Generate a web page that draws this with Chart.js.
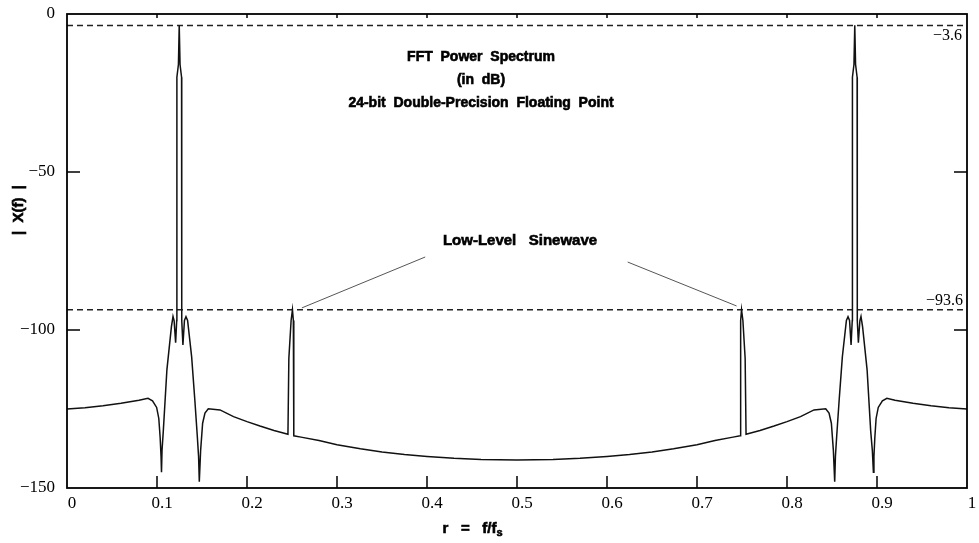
<!DOCTYPE html>
<html>
<head>
<meta charset="utf-8">
<script src="https://cdn.jsdelivr.net/npm/chart.js@4.4.1/dist/chart.umd.min.js"></script>
<style>
  html, body { margin: 0; padding: 0; background: #fff; }
</style>
</head>
<body>
<canvas id="fftChart" width="979" height="543"></canvas>
<script>
// normalised frequency r = f/fs and |X(f)| in dB
const freqs = [
  0, 0.02, 0.04, 0.06, 0.08, 0.09, 0.095, 0.0996, 0.102, 0.1035, 0.1045, 0.105, 0.1056,
  0.107, 0.111, 0.116, 0.1178, 0.119, 0.1207, 0.1219, 0.1221, 0.1238, 0.1247, 0.1256, 0.1273,
  0.1275, 0.1288, 0.1305, 0.1322, 0.134, 0.1385, 0.142, 0.1448, 0.1462, 0.147, 0.1485,
  0.1507, 0.1533, 0.157, 0.17, 0.185, 0.2, 0.2144, 0.23, 0.2455, 0.2465, 0.249, 0.2505,
  0.2515, 0.252, 0.26, 0.28, 0.3, 0.326, 0.35, 0.375, 0.4, 0.43, 0.46, 0.5,
  0.54, 0.57, 0.6, 0.625, 0.65, 0.674, 0.7, 0.72, 0.74, 0.748, 0.7485, 0.7495,
  0.751, 0.7535, 0.7545, 0.77, 0.7856, 0.8, 0.815, 0.83, 0.843, 0.8467, 0.8493, 0.8515,
  0.853, 0.8538, 0.8552, 0.858, 0.8615, 0.866, 0.8678, 0.8695, 0.8712, 0.8725, 0.8727, 0.8744,
  0.8753, 0.8762, 0.8779, 0.8781, 0.8793, 0.881, 0.8822, 0.884, 0.889, 0.893, 0.8948, 0.896,
  0.8966, 0.8976, 0.899, 0.9014, 0.906, 0.911, 0.92, 0.94, 0.96, 0.98, 1
];
const levels = [
  -125, -124.6, -124, -123.2, -122.2, -121.6, -122.4, -124.5, -128, -134, -140, -145, -138,
  -132, -112.6, -99, -95.7, -97, -104, -97, -20, -16, -3.6, -16, -20,
  -97, -104.7, -97, -95.8, -97, -108.5, -122, -133.7, -140, -148, -138,
  -129.5, -126.3, -124.9, -125.3, -127.4, -129, -130.4, -131.8, -133, -109, -97, -93.6,
  -97, -133.5, -133.9, -135, -136.3, -137.6, -138.6, -139.4, -140, -140.6, -141, -141.1,
  -141, -140.6, -140, -139.4, -138.6, -137.6, -136.3, -135, -133.9, -133.5, -97, -93.6,
  -97, -109, -133, -131.8, -130.4, -129, -127.4, -125.3, -124.9, -126.3, -129.5, -138,
  -148, -140, -133.7, -122, -108.5, -97, -95.8, -97, -104.7, -97, -20, -16,
  -3.6, -16, -20, -97, -104, -97, -95.7, -99, -112.6, -132, -138, -145,
  -140, -134, -128, -124.5, -122.4, -121.6, -122.2, -123.2, -124, -124.6, -125
];

const xTicks = [0, 0.1, 0.2, 0.3, 0.4, 0.5, 0.6, 0.7, 0.8, 0.9, 1];
const yTicks = [-150, -100, -50, 0];
const refLevels = [-3.6, -93.6];

const titleLines = ['FFT  Power  Spectrum', '(in  dB)', '24-bit  Double-Precision  Floating  Point'];
const calloutText = 'Low-Level   Sinewave';
const calloutLeftX = [0.398, 0.261];
const calloutLeftY = [-76.9, -93.0];
const calloutRightX = [0.623, 0.744];
const calloutRightY = [-78.5, -92.4];

const minus = s => String(s).replace('-', '\u2212');

const spectrum = freqs.map((f, i) => ({ x: f, y: levels[i] }));
const refSets = refLevels.map(l => ({
  data: [{ x: 0, y: l }, { x: 1, y: l }],
  borderColor: '#222', borderWidth: 1.5, borderDash: [6, 4], pointRadius: 0
}));
const callouts = [[calloutLeftX, calloutLeftY], [calloutRightX, calloutRightY]].map(([xs, ys]) => ({
  data: xs.map((x, i) => ({ x: x, y: ys[i] })),
  borderColor: '#555', borderWidth: 1, pointRadius: 0
}));

// heavy bold text: fill plus a thin stroke
function boldText(ctx, t, x, y) {
  ctx.fillText(t, x, y);
  ctx.strokeText(t, x, y);
}

const framePlugin = {
  id: 'frame',
  afterDraw(chart) {
    const { ctx, chartArea: a, scales: { x, y } } = chart;
    ctx.save();
    ctx.strokeStyle = '#000';
    ctx.lineWidth = 1.8;
    ctx.strokeRect(a.left, a.top, a.right - a.left, a.bottom - a.top);

    // inward tick marks
    ctx.lineWidth = 1.5;
    ctx.beginPath();
    xTicks.slice(1, -1).forEach(v => {
      const px = x.getPixelForValue(v);
      ctx.moveTo(px, a.bottom); ctx.lineTo(px, a.bottom - 12);
      ctx.moveTo(px, a.top); ctx.lineTo(px, a.top + 4);
    });
    yTicks.slice(1, -1).forEach(v => {
      const py = y.getPixelForValue(v);
      ctx.moveTo(a.left, py); ctx.lineTo(a.left + 13, py);
      ctx.moveTo(a.right, py); ctx.lineTo(a.right - 13, py);
    });
    ctx.stroke();

    // reference level labels
    ctx.fillStyle = '#000';
    ctx.font = '16px "Liberation Serif"';
    ctx.textAlign = 'right';
    ctx.textBaseline = 'top';
    ctx.fillText(minus(refLevels[0]), a.right - 5, y.getPixelForValue(refLevels[0]) + 2);
    ctx.textBaseline = 'bottom';
    ctx.fillText(minus(refLevels[1]), a.right - 4, y.getPixelForValue(refLevels[1]) - 1);

    // title block
    ctx.lineWidth = 0.6;
    ctx.font = 'bold 14px "Liberation Sans"';
    ctx.textAlign = 'center';
    ctx.textBaseline = 'middle';
    titleLines.forEach((t, i) => boldText(ctx, t, 481, 57 + i * 23));
    ctx.font = 'bold 15px "Liberation Sans"';
    boldText(ctx, calloutText, 520, 241);

    // x axis title with subscript
    ctx.font = 'bold 15px "Liberation Sans"';
    ctx.textAlign = 'left';
    ctx.textBaseline = 'alphabetic';
    const main = 'r   =   f/f';
    const w = ctx.measureText(main).width;
    const sx = 473 - (w + 7) / 2;
    boldText(ctx, main, sx, 533);
    ctx.font = 'bold 11px "Liberation Sans"';
    boldText(ctx, 's', sx + w, 536);

    // y axis title
    ctx.translate(19, 210);
    ctx.rotate(-Math.PI / 2);
    ctx.font = 'bold 15px "Liberation Sans"';
    ctx.textAlign = 'center';
    ctx.textBaseline = 'middle';
    boldText(ctx, '|  X(f)  |', 0, 0);
    ctx.restore();
  }
};

new Chart(document.getElementById('fftChart'), {
  type: 'line',
  data: {
    datasets: [
      { data: spectrum, borderColor: '#111', borderWidth: 1.5, pointRadius: 0, tension: 0 },
      ...refSets,
      ...callouts
    ]
  },
  options: {
    responsive: false,
    animation: false,
    devicePixelRatio: 1,
    layout: { padding: { top: 14, right: 12, left: 0, bottom: 0 } },
    plugins: { legend: { display: false }, tooltip: { enabled: false } },
    scales: {
      x: {
        type: 'linear', min: 0, max: 1,
        afterBuildTicks: s => { s.ticks = xTicks.map(v => ({ value: v })); },
        afterFit: s => { s.height = 55; s.paddingLeft = 0; s.paddingRight = 0; },
        grid: { display: false, drawTicks: false },
        border: { display: false },
        ticks: {
          color: '#000', font: { family: 'Liberation Serif', size: 17 },
          padding: 5, labelOffset: 5, maxRotation: 0,
          callback: v => String(Number(v.toFixed(1)))
        }
      },
      y: {
        min: -150, max: 0,
        afterBuildTicks: s => { s.ticks = yTicks.map(v => ({ value: v })); },
        afterFit: s => { s.width = 67; s.paddingTop = 0; s.paddingBottom = 0; },
        grid: { display: false, drawTicks: false },
        border: { display: false },
        ticks: {
          color: '#000', font: { family: 'Liberation Serif', size: 17 },
          padding: 12, labelOffset: 0,
          callback: v => minus(v)
        }
      }
    }
  },
  plugins: [framePlugin]
});
</script>
</body>
</html>
